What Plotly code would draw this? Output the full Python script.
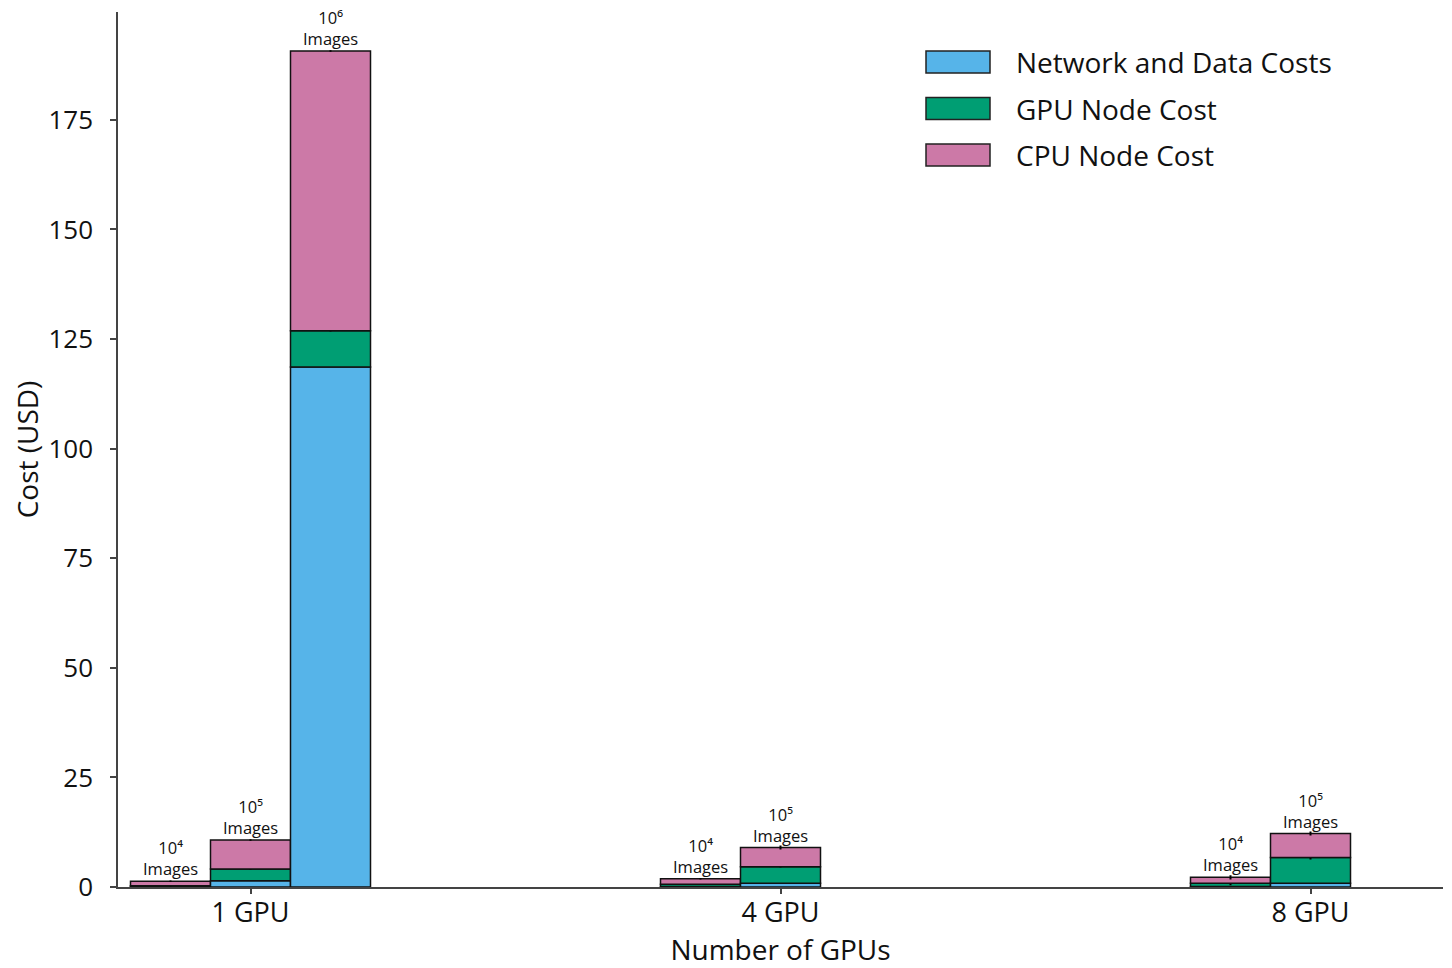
import plotly.graph_objects as go

categories = ["1 GPU", "4 GPU", "8 GPU"]
sizes = ["10⁴", "10⁵", "10⁶"]
series_names = ["Network and Data Costs", "GPU Node Cost", "CPU Node Cost"]
colors = ["#56B4E9", "#009E73", "#CC79A7"]

network = {
    "10⁴": [0.1, 0.1, 0.1],
    "10⁵": [1.4, 0.85, 0.85],
    "10⁶": [118.6, None, None],
}
gpu = {
    "10⁴": [0.2, 0.5, 0.75],
    "10⁵": [2.7, 3.75, 5.9],
    "10⁶": [8.3, None, None],
}
cpu = {
    "10⁴": [1.0, 1.3, 1.35],
    "10⁵": [6.6, 4.4, 5.45],
    "10⁶": [63.8, None, None],
}
gpu_err = {
    "10⁴": [0, 0, 0.3],
    "10⁵": [0, 0, 0.3],
    "10⁶": [0, 0, 0],
}
cpu_err = {
    "10⁴": [0, 0, 0.3],
    "10⁵": [0, 0.3, 0.3],
    "10⁶": [0, 0, 0],
}

FONT = "Open Sans"
bw = 80 / 530.0

fig = go.Figure()
for k, s in enumerate(sizes):
    comps = [network[s], gpu[s], cpu[s]]
    errs = [None, gpu_err[s], cpu_err[s]]
    base = [0 if v is not None else None for v in comps[0]]
    for j, vals in enumerate(comps):
        kw = {}
        if errs[j] is not None:
            kw["error_y"] = dict(type="data", array=errs[j], visible=True,
                                 color="black", thickness=1.5, width=1)
        fig.add_trace(go.Bar(
            x=categories, y=vals, base=base,
            offsetgroup=s, name=series_names[j],
            legendgroup=series_names[j], showlegend=False,
            marker=dict(color=colors[j], line=dict(color="#111111", width=1.5)),
            **kw,
        ))
        base = [b + v if (b is not None and v is not None) else None
                for b, v in zip(base, vals)]
    for i, tot in enumerate(base):
        if tot is None:
            continue
        fig.add_annotation(
            x=i + (k - 1) * bw, y=tot, xref="x", yref="y",
            text=f"{s}<br>Images", showarrow=False,
            yanchor="bottom", yshift=0, borderpad=0,
            font=dict(family=FONT, size=16.5, color="#111111"),
        )

# manual legend with large swatches (paper coordinates)
L, B, W, H = 110, 879, 1325, 875   # plot-area left/bottom in figure pixels
for j, name in enumerate(series_names):
    yc = 62 + 46.5 * j - 8
    fig.add_shape(type="rect", xref="paper", yref="paper",
                  x0=(926 - 8 - L) / W, x1=(990 - 8 - L) / W,
                  y0=(B - (yc + 11)) / H, y1=(B - (yc - 11)) / H,
                  fillcolor=colors[j], line=dict(color="#222222", width=1.5))
    fig.add_annotation(xref="paper", yref="paper",
                       x=(1014 - 8 - L) / W, y=(B - yc) / H,
                       xanchor="left", yanchor="middle", showarrow=False,
                       text=name, font=dict(family=FONT, size=28, color="#111111"))

fig.update_layout(
    width=1444, height=960,
    margin=dict(l=110, r=9, t=4, b=81),
    paper_bgcolor="white", plot_bgcolor="white",
    barmode="group", bargap=1 - 3 * bw, bargroupgap=0,
    showlegend=False,
    font=dict(family=FONT, color="#111111"),
    xaxis=dict(
        range=[-0.25, 2.25], showline=True, linecolor="#444444", linewidth=1.5,
        ticks="outside", ticklen=5, tickcolor="#444444", tickwidth=1.5,
        tickfont=dict(size=27), showgrid=False, zeroline=False,
        ticklabelstandoff=-4, automargin=False,
        title=dict(text="Number of GPUs", font=dict(size=28), standoff=2),
    ),
    yaxis=dict(
        range=[0, 199.6], showline=True, linecolor="#444444", linewidth=1.5,
        ticks="outside", ticklen=6, tickcolor="#444444", tickwidth=1.5,
        tickvals=[0, 25, 50, 75, 100, 125, 150, 175],
        tickfont=dict(size=26), showgrid=False, zeroline=False,
        ticklabelstandoff=12, automargin=False,
        title=dict(text="Cost (USD)", font=dict(size=28), standoff=20),
    ),
)

fig.write_html("out.html")
